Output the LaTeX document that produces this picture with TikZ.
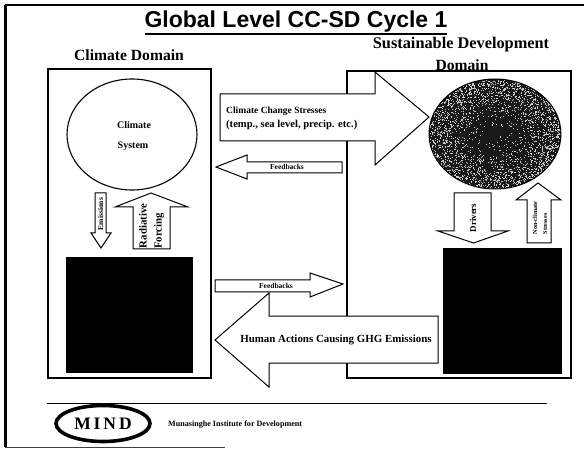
\documentclass[tikz,border=0pt]{standalone}
\usepackage{fontspec}
\setmainfont{Liberation Serif}
\setsansfont{Liberation Sans}
\tikzset{
    domainbox/.style={draw,line width=2.6pt},
    blockarrow/.style={draw,fill=white,line width=1pt,line join=miter},
    headtext/.style={font=\bfseries\fontsize{15.6}{17}\selectfont,inner sep=0pt},
    arrowtext/.style={font=\bfseries\fontsize{10}{11}\selectfont,inner sep=0pt},
    tinytext/.style={font=\bfseries\fontsize{7.5}{8}\selectfont,inner sep=0pt},
}
\begin{document}
\begin{tikzpicture}[x=1pt,y=-1pt]
    \useasboundingbox (0,0) rectangle (584,449);
    % 绘制外框
    \draw[line width=3pt] (5,447) -- (5,5);
    \draw[line width=2pt] (5,5) -- (584,5);
    \draw[line width=0.8pt,black!75] (5,447) -- (225,447);

    % 绘制标题
    \node[font=\sffamily\bfseries\fontsize{23}{26}\selectfont,inner sep=0pt] (title) at (296,22) {Global Level CC-SD Cycle 1};
    \draw[line width=1.3pt] (145,34) -- (447,34);
    \node[headtext] (climatehead) at (129,55) {Climate Domain};
    \node[headtext,font=\bfseries\fontsize{16.3}{18}\selectfont] (sdhead) at (461,45) {Sustainable Development};
    \node[headtext] (sdhead2) at (462,65) {Domain};

    % 绘制两个区域
    \draw[domainbox] (48,69) rectangle (211,378);
    \draw[domainbox] (347,71) rectangle (571,378);

    % 绘制Climate System
    \draw[line width=1.1pt] (132,134.5) ellipse (65 and 55.5);
    \node[arrowtext] (climate) at (134,125) {Climate};
    \node[arrowtext] (system) at (133,146) {System};

    % 绘制右侧椭圆并填充噪点
    \begin{scope}
        \clip (495,134) ellipse (66 and 55);
        \fill[black!90] (429,79) rectangle (561,189);
        \pgfmathsetseed{42}
        \foreach \i in {1,...,2400}{
            \pgfmathsetmacro{\ang}{360*rnd}
            \pgfmathsetmacro{\rad}{pow(rnd,0.3)}
            \fill[white!80!black] ({495+66*\rad*cos(\ang)},{134+55*\rad*sin(\ang)}) rectangle ++(0.9,0.9);
        }
    \end{scope}
    \draw[line width=1pt] (495,134) ellipse (66 and 55);

    % 绘制黑色方块
    \fill (66,257) rectangle (193,373);
    \fill (443,248) rectangle (562,374);

    % 绘制左侧上下箭头
    \draw[blockarrow] (95,193) -- (106,193) -- (106,233) -- (111,233) -- (101,248) -- (91,233) -- (95,233) -- cycle;
    \node[tinytext,rotate=90] (emissions) at (100.5,214) {Emissions};
    \draw[blockarrow] (151,193) -- (188,207) -- (170,207) -- (170,249) -- (133,249) -- (133,207) -- (115,207) -- cycle;
    \node[arrowtext,rotate=90,font=\bfseries\fontsize{10.8}{12}\selectfont] (radiative) at (143,226) {Radiative};
    \node[arrowtext,rotate=90,font=\bfseries\fontsize{10.8}{12}\selectfont] (forcing) at (159,231) {Forcing};

    % 绘制右侧上下箭头
    \draw[blockarrow] (454,193) -- (491,193) -- (491,231) -- (508,231) -- (473.5,243) -- (438,231) -- (454,231) -- cycle;
    \node[arrowtext,rotate=90,font=\bfseries\fontsize{9}{10}\selectfont] (drivers) at (473,218) {Drivers};
    \draw[blockarrow] (538,183) -- (561,200) -- (551,200) -- (551,243) -- (527,243) -- (527,200) -- (516,200) -- cycle;
    \node[tinytext,rotate=90,font=\bfseries\fontsize{6.2}{7}\selectfont] (nonclimate) at (535,218) {Non-climate};
    \node[tinytext,rotate=90,font=\bfseries\fontsize{6.2}{7}\selectfont] (stresses) at (545,224) {Stresses};

    % 绘制大箭头
    \draw[blockarrow] (220,94) -- (375,94) -- (375,72) -- (429,117) -- (375,165) -- (375,141) -- (220,141) -- cycle;
    \node[arrowtext,anchor=west,font=\bfseries\fontsize{9.5}{11}\selectfont] (stresses1) at (226,111) {Climate Change Stresses};
    \node[arrowtext,anchor=west,font=\bfseries\fontsize{10.6}{12}\selectfont] (stresses2) at (226,125) {(temp., sea level, precip. etc.)};

    \draw[blockarrow] (216,167) -- (247,155) -- (247,162) -- (342,162) -- (342,173) -- (247,173) -- (247,179) -- cycle;
    \node[tinytext] (feedback1) at (287,167) {Feedbacks};

    \draw[blockarrow] (215,280) -- (310,280) -- (310,273) -- (343,284) -- (310,297) -- (310,292) -- (215,292) -- cycle;
    \node[tinytext] (feedback2) at (276,286) {Feedbacks};

    \draw[blockarrow] (215,340) -- (269,293) -- (269,316) -- (438,316) -- (438,363) -- (269,363) -- (269,387) -- cycle;
    \node[arrowtext,font=\bfseries\fontsize{10.9}{12}\selectfont] (human) at (336,340) {Human Actions Causing GHG Emissions};

    % 绘制底部标志
    \draw[line width=1pt] (47,403) -- (547,403);
    \draw[line width=3.6pt] (103,423.5) ellipse (47 and 18);
    \node[font=\bfseries\fontsize{17.5}{19}\selectfont,inner sep=0pt] (mind) at (103,424) {M\,I\,N\,D};
    \node[tinytext,anchor=west,font=\bfseries\fontsize{8.1}{9}\selectfont] (mindname) at (168,425) {Munasinghe Institute for Development};
\end{tikzpicture}
\end{document}
